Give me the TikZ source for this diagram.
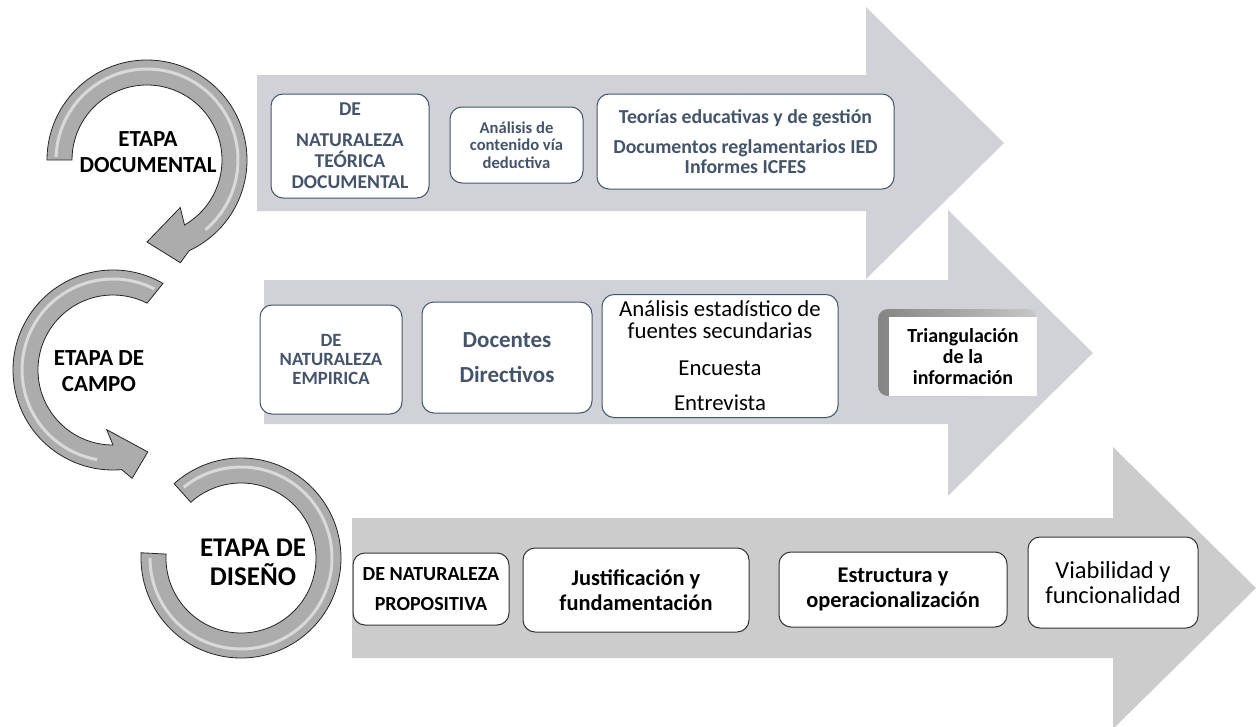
\documentclass[tikz,border=0pt]{standalone}
\usepackage{fontspec}
\setmainfont{Carlito}
\usetikzlibrary{positioning}

\definecolor{arrowblue}{RGB}{208,210,215}
\definecolor{arrowgray}{RGB}{204,204,204}
\definecolor{slate}{RGB}{68,84,106}
\definecolor{ringgray}{RGB}{172,172,172}

\begin{document}
\begin{tikzpicture}[x=1pt, y=-1pt,
            every node/.style={inner sep=0pt, align=center},
            bluebox/.style={draw=slate, line width=1pt, fill=white, rounded corners=12pt, text=slate},
            darkbox/.style={draw=black!80, line width=1pt, fill=white, rounded corners=12pt},
            ring/.style={fill=ringgray, draw=black!85, line width=.8pt},
            shine/.style={draw=white, opacity=.55, line width=3pt},
            stage/.style={text=black}]
        \useasboundingbox (0,0) rectangle (1256,726);
        \clip (0,0) rectangle (1256,726);

        \fill[arrowblue] (257,75) -- (866,75) -- (866,7) -- (1004,143) -- (866,279) -- (866,211) -- (257,211) -- cycle;
        \fill[arrowblue] (264,280) -- (948,280) -- (948,210) -- (1093,353) -- (948,496) -- (948,424) -- (264,424) -- cycle;
        \fill[arrowgray] (352,518) -- (1113,518) -- (1113,447) -- (1256,588) -- (1113,729) -- (1113,658) -- (352,658) -- cycle;

        \begin{scope}[shift={(147,160)}]
            \draw[ring] (180:100) arc[start angle=180, end angle=425, radius=100]
                -- (72:108) -- (90:82) -- (55:58) -- (60:75)
                arc[start angle=60, end angle=-180, radius=75] -- cycle;
            \draw[shine] (182:91) arc[start angle=182, end angle=410, radius=91];
        \end{scope}
        \begin{scope}[shift={(113,370)}]
            \draw[ring] (300:100) arc[start angle=300, end angle=85, radius=100]
                -- (80:110) -- (67:89) -- (96:60) -- (90:75)
                arc[start angle=90, end angle=297, radius=75] -- cycle;
            \draw[shine] (297:91) arc[start angle=297, end angle=100, radius=91];
        \end{scope}
        \begin{scope}[shift={(241,558)}]
            \draw[ring] (228:100) arc[start angle=228, end angle=543, radius=100]
                -- (543:75) arc[start angle=543, end angle=228, radius=75] -- cycle;
            \draw[shine] (231:91) arc[start angle=231, end angle=540, radius=91];
        \end{scope}

        \node[stage, font=\bfseries\fontsize{23}{26}\selectfont] (documental) at (148,152) {ETAPA\\DOCUMENTAL};
        \node[stage, font=\bfseries\fontsize{23}{26}\selectfont] (campo) at (99,371) {ETAPA DE\\CAMPO};
        \node[stage, font=\bfseries\fontsize{27}{29}\selectfont] (diseno) at (253,562) {ETAPA DE\\DISEÑO};

        \node[bluebox, minimum width=158pt, minimum height=104pt, font=\bfseries\fontsize{19.6}{21}\selectfont] (teorica) at (350,146) {DE\\[10pt]NATURALEZA\\TEÓRICA\\DOCUMENTAL};
        \node[bluebox, minimum width=133pt, minimum height=76pt, font=\bfseries\fontsize{16.6}{17.5}\selectfont] (deductiva) at (516.5,145) {Análisis de\\contenido vía\\deductiva};
        \node[bluebox, minimum width=297pt, minimum height=95pt, font=\bfseries\fontsize{19.8}{20.5}\selectfont] (teorias) at (745.5,141.5) {Teorías educativas y de gestión\\[9.5pt]Documentos reglamentarios IED\\Informes ICFES};

        \node[bluebox, minimum width=142pt, minimum height=109pt, font=\bfseries\fontsize{18.7}{19}\selectfont] (empirica) at (331,359.5) {DE\\NATURALEZA\\EMPIRICA};
        \node[bluebox, minimum width=170pt, minimum height=111pt, font=\bfseries\fontsize{23}{26}\selectfont] (docentes) at (507,357.5) {Docentes\\[9pt]Directivos};
        \node[bluebox, text=black, minimum width=236pt, minimum height=123pt, font=\fontsize{22.8}{22}\selectfont] (fuentes) at (720,356) {Análisis estadístico de\\fuentes secundarias\\[15pt]Encuesta\\[13pt]Entrevista};
        \shade[left color=black!48, right color=black!22, rounded corners=10pt] (878,309) rectangle (1037,396);
        \node[fill=white, minimum width=148pt, minimum height=79pt, font=\bfseries\fontsize{20}{21}\selectfont] (triang) at (963,356.5) {Triangulación\\de la\\información};

        \node[darkbox, minimum width=156pt, minimum height=72pt, font=\bfseries\fontsize{20}{30}\selectfont] (propositiva) at (431,589) {DE NATURALEZA\\PROPOSITIVA};
        \node[darkbox, minimum width=226pt, minimum height=84pt, font=\bfseries\fontsize{22.4}{25}\selectfont] (justif) at (636,590) {Justificación y\\fundamentación};
        \node[darkbox, minimum width=228pt, minimum height=75pt, font=\bfseries\fontsize{22.4}{25}\selectfont] (estructura) at (893,589.5) {Estructura y\\operacionalización};
        \node[darkbox, minimum width=170pt, minimum height=91pt, font=\fontsize{24.5}{25}\selectfont] (viabilidad) at (1113,582.5) {Viabilidad y\\funcionalidad};
\end{tikzpicture}
\end{document}
